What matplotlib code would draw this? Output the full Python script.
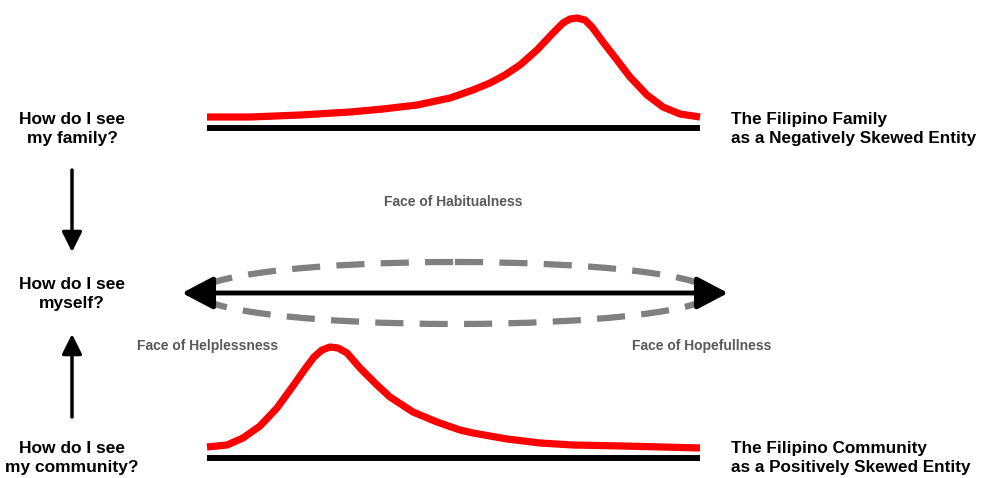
import matplotlib.pyplot as plt
from matplotlib.patches import Ellipse

# red curves (pixel coords, y grows downward)
fam_x = [207, 250, 300, 350, 383, 417, 450, 473, 490, 505, 520, 537, 553, 563, 570, 577,
         585, 592, 603, 617, 630, 647, 663, 680, 700]
fam_y = [117, 117, 115, 112, 109, 105, 98, 90, 83, 75, 65, 50, 33, 23, 19, 18,
         20, 27, 42, 60, 77, 95, 107, 114, 117]
com_x = [207, 227, 243, 260, 277, 293, 305, 314, 322, 330, 338, 347, 360, 377, 390,
         413, 437, 460, 473, 507, 540, 573, 623, 700]
com_y = [447, 445, 438, 426, 408, 386, 369, 357, 350, 347, 348, 353, 368, 385, 397,
         412, 422, 430, 433, 439, 443, 445, 446, 448]

left_labels = ["How do I see\nmy family?", "How do I see\nmyself?", "How do I see\nmy community?"]
right_labels = ["The Filipino Family\nas a Negatively Skewed Entity",
                "The Filipino Community\nas a Positively Skewed Entity"]
faces = ["Face of Habitualness", "Face of Helplessness", "Face of Hopefullness"]

plt.rcParams['font.family'] = ['Liberation Sans', 'DejaVu Sans']

fig = plt.figure(figsize=(9.83, 4.78), dpi=100)
ax = fig.add_axes([0, 0, 1, 1])
ax.set_xlim(0, 983)
ax.set_ylim(478, 0)
ax.axis("off")

# curves and baselines
ax.plot(fam_x, fam_y, color="red", lw=5.2, solid_capstyle="butt", solid_joinstyle="round")
ax.plot([207, 700], [128, 128], color="black", lw=4.3, solid_capstyle="butt")
ax.plot(com_x, com_y, color="red", lw=5.2, solid_capstyle="butt", solid_joinstyle="round")
ax.plot([207, 700], [458, 458], color="black", lw=4.3, solid_capstyle="butt")

# dashed ellipse and double arrow
ax.add_patch(Ellipse((455, 293), 514, 62, fill=False, edgecolor="#808080",
                     lw=4.5, linestyle=(0, (4.5, 2.6))))
ax.annotate("", xy=(728, 293), xytext=(182, 293),
            arrowprops=dict(arrowstyle="<|-|>,head_length=0.95,head_width=0.5",
                            lw=3.5, color="black", mutation_scale=20,
                            shrinkA=0, shrinkB=0))

# vertical arrows on the left
ax.annotate("", xy=(72, 252), xytext=(72, 170),
            arrowprops=dict(arrowstyle="-|>,head_length=0.6,head_width=0.3",
                            lw=2.5, color="black", mutation_scale=20,
                            shrinkA=0, shrinkB=0))
ax.annotate("", xy=(72, 334), xytext=(72, 417),
            arrowprops=dict(arrowstyle="-|>,head_length=0.6,head_width=0.3",
                            lw=2.5, color="black", mutation_scale=20,
                            shrinkA=0, shrinkB=0))

# texts
for lab, y in zip(left_labels, [129, 294, 458]):
    ax.text(72, y, lab, ha="center", va="center", fontsize=12.5, fontweight="bold",
            linespacing=1.3)
for lab, y in zip(right_labels, [129, 458]):
    ax.text(731, y, lab, ha="left", va="center", fontsize=12.3, fontweight="bold",
            linespacing=1.3)
for lab, (x, y) in zip(faces, [(453, 202), (208, 346), (702, 346)]):
    ax.text(x, y, lab, ha="center", va="center", fontsize=10, fontweight="bold",
            color="#595959")

fig.savefig("out.png", dpi=100)
